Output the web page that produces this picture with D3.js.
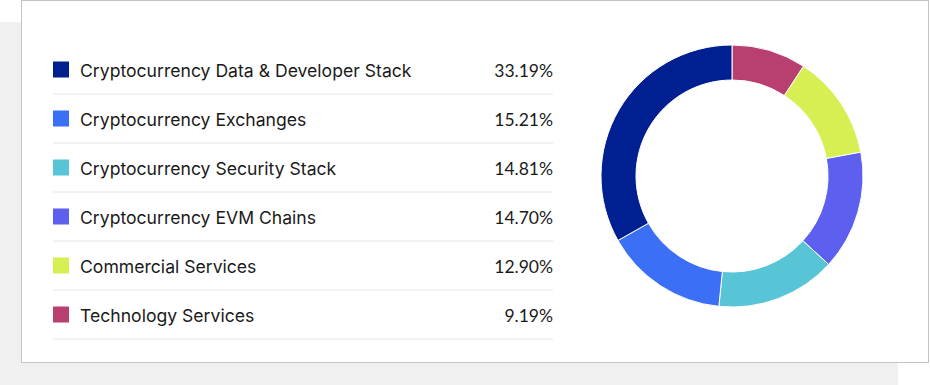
<!DOCTYPE html>
<html>
<head>
<meta charset="utf-8">
<script src="https://cdn.jsdelivr.net/npm/d3@7"></script>
<style>
  body { margin: 0; background: #fff; }
</style>
</head>
<body>
<div id="chart"></div>
<script>
const width = 930
const height = 385

// data
const categories = [
    'Cryptocurrency Data & Developer Stack',
    'Cryptocurrency Exchanges',
    'Cryptocurrency Security Stack',
    'Cryptocurrency EVM Chains',
    'Commercial Services',
    'Technology Services'
]
const shares = [33.19, 15.21, 14.81, 14.70, 12.90, 9.19]
const colors = ['#001f91', '#3b6ff5', '#58c5d6', '#5d5fef', '#d8ef53', '#b83f70']

const svg = d3.select('#chart').append('svg')
    .attr('width', width)
    .attr('height', height)
    .attr('viewBox', [0, 0, width, height])

// shadow block behind the card
svg.append('rect')
    .attr('x', 0).attr('y', 22)
    .attr('width', 898).attr('height', height - 22)
    .attr('fill', '#f0f0f0')

// card
svg.append('rect')
    .attr('x', 21.5).attr('y', 0.5)
    .attr('width', 907).attr('height', 362)
    .attr('fill', '#fff')
    .attr('stroke', '#c4c4c4')
    .attr('stroke-width', 1)

// legend rows
const rowY = d3.scaleBand()
    .domain(categories)
    .range([45, 339])

const legend = svg.append('g')

const row = legend.selectAll('g')
    .data(categories)
    .enter()
    .append('g')
    .attr('transform', d => 'translate(0,' + rowY(d) + ')')

row.append('rect')
    .attr('x', 53)
    .attr('y', rowY.bandwidth() / 2 - 8)
    .attr('width', 16)
    .attr('height', 16)
    .attr('fill', (d, i) => colors[i])

row.append('text')
    .attr('x', 80)
    .attr('y', rowY.bandwidth() / 2 + 1)
    .attr('dominant-baseline', 'central')
    .attr('font-family', 'Inter, sans-serif')
    .attr('font-size', 17.6)
    .attr('fill', '#1a1a1a')
    .text(d => d)

row.append('text')
    .attr('x', 553)
    .attr('y', rowY.bandwidth() / 2 + 1)
    .attr('dominant-baseline', 'central')
    .attr('text-anchor', 'end')
    .attr('font-family', 'Lato, sans-serif')
    .attr('font-size', 17.5)
    .attr('fill', '#1a1a1a')
    .text((d, i) => shares[i].toFixed(2) + '%')

row.append('line')
    .attr('x1', 53).attr('x2', 553)
    .attr('y1', rowY.bandwidth()).attr('y2', rowY.bandwidth())
    .attr('stroke', '#e6e6e6')
    .attr('stroke-width', 1)

// donut, smallest slice starts at 12 o'clock and runs clockwise
const slices = categories.map((c, i) => ({name: c, value: shares[i], color: colors[i]})).reverse()

const pie = d3.pie()
    .sort(null)
    .value(d => d.value)

const arc = d3.arc()
    .innerRadius(96)
    .outerRadius(131)

svg.append('g')
    .attr('transform', 'translate(732,176)')
    .selectAll('path')
    .data(pie(slices))
    .enter()
    .append('path')
    .attr('d', arc)
    .attr('fill', d => d.data.color)
    .attr('stroke', '#fff')
    .attr('stroke-width', 1)
</script>
</body>
</html>
